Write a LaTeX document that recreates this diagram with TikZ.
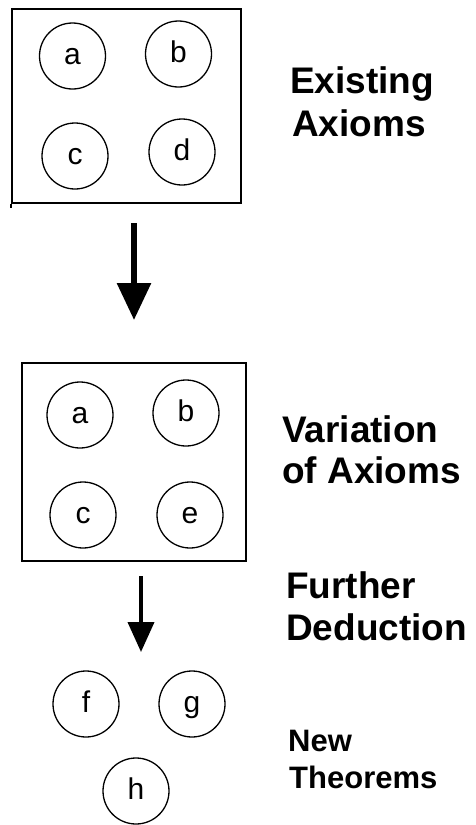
\documentclass[tikz,border=0pt]{standalone}
\usepackage{fontspec}
\setmainfont{Liberation Sans}
\usetikzlibrary{arrows.meta}
\tikzset{
  frame/.style={draw, line width=1.6pt, inner sep=0pt},
  ball/.style={draw, circle, line width=1.3pt, minimum size=66pt, inner sep=0pt,
    font=\fontsize{30}{30}\selectfont, text height=22pt, text depth=6pt},
  biglabel/.style={anchor=base west, inner sep=0pt, font=\fontsize{37}{37}\selectfont\bfseries},
  smalllabel/.style={anchor=base west, inner sep=0pt, font=\fontsize{31}{31}\selectfont\bfseries},
}
\begin{document}
\begin{tikzpicture}[x=1pt,y=-1pt]
\useasboundingbox (0,0) rectangle (475,825);

% first set of axioms
\node[frame, minimum width=229pt, minimum height=194pt] (box1) at (126.5,106) {};
\draw[line width=1.6pt] (box1.south west) -- ++(0,4);
\node[ball] (a1) at (72.5,56) {a};
\node[ball] (b1) at (178.5,54) {b};
\node[ball] (c1) at (75,156) {c};
\node[ball] (d1) at (182,152) {d};
\node[biglabel] (l1a) at (290,93) {Existing};
\node[biglabel] (l1b) at (292,136) {Axioms};

% arrow to the varied axioms
\coordinate (s1) at (134,223);
\coordinate (t1) at (134,320);
\draw[line width=6pt, -{Triangle[length=37pt,width=33pt]}] (s1) -- (t1);

% varied set of axioms
\node[frame, minimum width=224pt, minimum height=198pt] (box2) at (134,462) {};
\node[ball] (a2) at (80,415) {a};
\node[ball] (b2) at (186,413) {b};
\node[ball] (c2) at (83,515) {c};
\node[ball] (e2) at (190,515) {e};
\node[biglabel] (l2a) at (282,442) {Variation};
\node[biglabel] (l2b) at (282,483) {of Axioms};

% deduction arrow
\coordinate (s2) at (141,576);
\coordinate (t2) at (141,652);
\draw[line width=4pt, -{Triangle[length=30pt,width=26pt]}] (s2) -- (t2);
\node[biglabel] (l3a) at (286,598) {Further};
\node[biglabel] (l3b) at (286,640) {Deduction};

% new theorems
\node[ball] (f) at (86,704) {f};
\node[ball] (g) at (192,704) {g};
\node[ball] (h) at (136,791) {h};
\node[smalllabel] (l4a) at (288,751) {New};
\node[smalllabel] (l4b) at (289,788) {Theorems};
\end{tikzpicture}
\end{document}
